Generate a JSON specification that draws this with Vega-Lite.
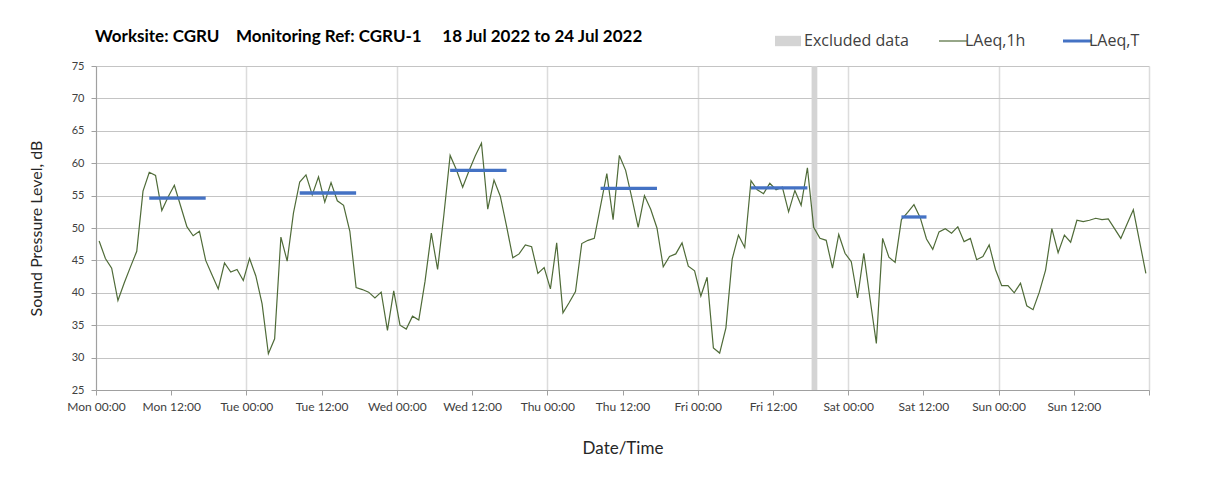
{
  "$schema": "https://vega.github.io/schema/vega-lite/v6.json",
  "width": 1053,
  "height": 324,
  "autosize": "none",
  "padding": {"left": 96, "top": 66, "right": 59, "bottom": 93},
  "title": {
    "text": "Worksite: CGRU\u00a0\u00a0\u00a0\u00a0Monitoring Ref: CGRU-1\u00a0\u00a0\u00a0\u00a0\u00a018 Jul 2022 to 24 Jul 2022",
    "anchor": "start",
    "frame": "group",
    "offset": 18,
    "dx": -1,
    "dy": 36,
    "font": "Lato",
    "fontSize": 17,
    "fontWeight": "bold",
    "color": "#000000"
  },
  "datasets": {
    "hourly": [
      {"time": "2022-07-18T00:30", "level": 48.0}, {"time": "2022-07-18T01:30", "level": 45.3}, {"time": "2022-07-18T02:30", "level": 43.8}, {"time": "2022-07-18T03:30", "level": 38.8},
      {"time": "2022-07-18T04:30", "level": 41.5}, {"time": "2022-07-18T05:30", "level": 44.0}, {"time": "2022-07-18T06:30", "level": 46.4}, {"time": "2022-07-18T07:30", "level": 55.7},
      {"time": "2022-07-18T08:30", "level": 58.6}, {"time": "2022-07-18T09:30", "level": 58.1}, {"time": "2022-07-18T10:30", "level": 52.7}, {"time": "2022-07-18T11:30", "level": 54.8},
      {"time": "2022-07-18T12:30", "level": 56.6}, {"time": "2022-07-18T13:30", "level": 53.4}, {"time": "2022-07-18T14:30", "level": 50.2}, {"time": "2022-07-18T15:30", "level": 48.8},
      {"time": "2022-07-18T16:30", "level": 49.5}, {"time": "2022-07-18T17:30", "level": 45.0}, {"time": "2022-07-18T18:30", "level": 42.8}, {"time": "2022-07-18T19:30", "level": 40.6},
      {"time": "2022-07-18T20:30", "level": 44.6}, {"time": "2022-07-18T21:30", "level": 43.2}, {"time": "2022-07-18T22:30", "level": 43.6}, {"time": "2022-07-18T23:30", "level": 41.9},
      {"time": "2022-07-19T00:30", "level": 45.3}, {"time": "2022-07-19T01:30", "level": 42.6}, {"time": "2022-07-19T02:30", "level": 38.3}, {"time": "2022-07-19T03:30", "level": 30.6},
      {"time": "2022-07-19T04:30", "level": 32.9}, {"time": "2022-07-19T05:30", "level": 48.6}, {"time": "2022-07-19T06:30", "level": 44.9}, {"time": "2022-07-19T07:30", "level": 52.3},
      {"time": "2022-07-19T08:30", "level": 57.1}, {"time": "2022-07-19T09:30", "level": 58.2}, {"time": "2022-07-19T10:30", "level": 55.1}, {"time": "2022-07-19T11:30", "level": 57.9},
      {"time": "2022-07-19T12:30", "level": 54.0}, {"time": "2022-07-19T13:30", "level": 57.0}, {"time": "2022-07-19T14:30", "level": 54.2}, {"time": "2022-07-19T15:30", "level": 53.5},
      {"time": "2022-07-19T16:30", "level": 49.5}, {"time": "2022-07-19T17:30", "level": 40.8}, {"time": "2022-07-19T18:30", "level": 40.5}, {"time": "2022-07-19T19:30", "level": 40.1},
      {"time": "2022-07-19T20:30", "level": 39.2}, {"time": "2022-07-19T21:30", "level": 40.1}, {"time": "2022-07-19T22:30", "level": 34.2}, {"time": "2022-07-19T23:30", "level": 40.3},
      {"time": "2022-07-20T00:30", "level": 35.0}, {"time": "2022-07-20T01:30", "level": 34.4}, {"time": "2022-07-20T02:30", "level": 36.4}, {"time": "2022-07-20T03:30", "level": 35.8},
      {"time": "2022-07-20T04:30", "level": 41.8}, {"time": "2022-07-20T05:30", "level": 49.2}, {"time": "2022-07-20T06:30", "level": 43.6}, {"time": "2022-07-20T07:30", "level": 52.0},
      {"time": "2022-07-20T08:30", "level": 61.2}, {"time": "2022-07-20T09:30", "level": 59.0}, {"time": "2022-07-20T10:30", "level": 56.3}, {"time": "2022-07-20T11:30", "level": 58.8},
      {"time": "2022-07-20T12:30", "level": 61.1}, {"time": "2022-07-20T13:30", "level": 63.1}, {"time": "2022-07-20T14:30", "level": 52.9}, {"time": "2022-07-20T15:30", "level": 57.4},
      {"time": "2022-07-20T16:30", "level": 54.9}, {"time": "2022-07-20T17:30", "level": 50.3}, {"time": "2022-07-20T18:30", "level": 45.4}, {"time": "2022-07-20T19:30", "level": 46.0},
      {"time": "2022-07-20T20:30", "level": 47.4}, {"time": "2022-07-20T21:30", "level": 47.1}, {"time": "2022-07-20T22:30", "level": 43.0}, {"time": "2022-07-20T23:30", "level": 43.9},
      {"time": "2022-07-21T00:30", "level": 40.6}, {"time": "2022-07-21T01:30", "level": 47.7}, {"time": "2022-07-21T02:30", "level": 36.9}, {"time": "2022-07-21T03:30", "level": 38.5},
      {"time": "2022-07-21T04:30", "level": 40.2}, {"time": "2022-07-21T05:30", "level": 47.6}, {"time": "2022-07-21T06:30", "level": 48.1}, {"time": "2022-07-21T07:30", "level": 48.4},
      {"time": "2022-07-21T08:30", "level": 53.4}, {"time": "2022-07-21T09:30", "level": 58.4}, {"time": "2022-07-21T10:30", "level": 51.3}, {"time": "2022-07-21T11:30", "level": 61.2},
      {"time": "2022-07-21T12:30", "level": 58.9}, {"time": "2022-07-21T13:30", "level": 54.6}, {"time": "2022-07-21T14:30", "level": 50.1}, {"time": "2022-07-21T15:30", "level": 55.0},
      {"time": "2022-07-21T16:30", "level": 52.9}, {"time": "2022-07-21T17:30", "level": 50.0}, {"time": "2022-07-21T18:30", "level": 44.0}, {"time": "2022-07-21T19:30", "level": 45.6},
      {"time": "2022-07-21T20:30", "level": 46.0}, {"time": "2022-07-21T21:30", "level": 47.7}, {"time": "2022-07-21T22:30", "level": 44.1}, {"time": "2022-07-21T23:30", "level": 43.4},
      {"time": "2022-07-22T00:30", "level": 39.5}, {"time": "2022-07-22T01:30", "level": 42.4}, {"time": "2022-07-22T02:30", "level": 31.5}, {"time": "2022-07-22T03:30", "level": 30.7},
      {"time": "2022-07-22T04:30", "level": 34.6}, {"time": "2022-07-22T05:30", "level": 45.2}, {"time": "2022-07-22T06:30", "level": 48.9}, {"time": "2022-07-22T07:30", "level": 47.0},
      {"time": "2022-07-22T08:30", "level": 57.3}, {"time": "2022-07-22T09:30", "level": 55.9}, {"time": "2022-07-22T10:30", "level": 55.3}, {"time": "2022-07-22T11:30", "level": 56.9},
      {"time": "2022-07-22T12:30", "level": 55.9}, {"time": "2022-07-22T13:30", "level": 56.3}, {"time": "2022-07-22T14:30", "level": 52.5}, {"time": "2022-07-22T15:30", "level": 55.8},
      {"time": "2022-07-22T16:30", "level": 53.5}, {"time": "2022-07-22T17:30", "level": 59.3}, {"time": "2022-07-22T18:30", "level": 50.1}, {"time": "2022-07-22T19:30", "level": 48.4},
      {"time": "2022-07-22T20:30", "level": 48.1}, {"time": "2022-07-22T21:30", "level": 43.8}, {"time": "2022-07-22T22:30", "level": 49.0}, {"time": "2022-07-22T23:30", "level": 46.1},
      {"time": "2022-07-23T00:30", "level": 44.8}, {"time": "2022-07-23T01:30", "level": 39.2}, {"time": "2022-07-23T02:30", "level": 46.1}, {"time": "2022-07-23T03:30", "level": 39.0},
      {"time": "2022-07-23T04:30", "level": 32.2}, {"time": "2022-07-23T05:30", "level": 48.4}, {"time": "2022-07-23T06:30", "level": 45.5}, {"time": "2022-07-23T07:30", "level": 44.7},
      {"time": "2022-07-23T08:30", "level": 51.3}, {"time": "2022-07-23T09:30", "level": 52.4}, {"time": "2022-07-23T10:30", "level": 53.6}, {"time": "2022-07-23T11:30", "level": 51.6},
      {"time": "2022-07-23T12:30", "level": 48.3}, {"time": "2022-07-23T13:30", "level": 46.7}, {"time": "2022-07-23T14:30", "level": 49.4}, {"time": "2022-07-23T15:30", "level": 49.9},
      {"time": "2022-07-23T16:30", "level": 49.2}, {"time": "2022-07-23T17:30", "level": 50.2}, {"time": "2022-07-23T18:30", "level": 47.9}, {"time": "2022-07-23T19:30", "level": 48.4},
      {"time": "2022-07-23T20:30", "level": 45.1}, {"time": "2022-07-23T21:30", "level": 45.6}, {"time": "2022-07-23T22:30", "level": 47.4}, {"time": "2022-07-23T23:30", "level": 43.6},
      {"time": "2022-07-24T00:30", "level": 41.1}, {"time": "2022-07-24T01:30", "level": 41.1}, {"time": "2022-07-24T02:30", "level": 40.0}, {"time": "2022-07-24T03:30", "level": 41.5},
      {"time": "2022-07-24T04:30", "level": 38.0}, {"time": "2022-07-24T05:30", "level": 37.4}, {"time": "2022-07-24T06:30", "level": 40.1}, {"time": "2022-07-24T07:30", "level": 43.5},
      {"time": "2022-07-24T08:30", "level": 49.9}, {"time": "2022-07-24T09:30", "level": 46.2}, {"time": "2022-07-24T10:30", "level": 48.9}, {"time": "2022-07-24T11:30", "level": 47.8},
      {"time": "2022-07-24T12:30", "level": 51.2}, {"time": "2022-07-24T13:30", "level": 51.0}, {"time": "2022-07-24T14:30", "level": 51.2}, {"time": "2022-07-24T15:30", "level": 51.5},
      {"time": "2022-07-24T16:30", "level": 51.3}, {"time": "2022-07-24T17:30", "level": 51.4}, {"time": "2022-07-24T18:30", "level": 49.9}, {"time": "2022-07-24T19:30", "level": 48.4},
      {"time": "2022-07-24T20:30", "level": 50.6}, {"time": "2022-07-24T21:30", "level": 52.8}, {"time": "2022-07-24T22:30", "level": 47.9}, {"time": "2022-07-24T23:30", "level": 43.0}
    ],
    "periods": [
      {"start": "2022-07-18T08:30", "end": "2022-07-18T17:30", "level": 54.6},
      {"start": "2022-07-19T08:30", "end": "2022-07-19T17:30", "level": 55.4},
      {"start": "2022-07-20T08:30", "end": "2022-07-20T17:30", "level": 58.9},
      {"start": "2022-07-21T08:30", "end": "2022-07-21T17:30", "level": 56.1},
      {"start": "2022-07-22T08:30", "end": "2022-07-22T17:30", "level": 56.2},
      {"start": "2022-07-23T08:30", "end": "2022-07-23T12:30", "level": 51.7}
    ],
    "excluded": [
      {"start": "2022-07-22T18:10", "end": "2022-07-22T19:05"}
    ]
  },
  "layer": [
    {
      "data": {"name": "excluded"},
      "mark": {"type": "rect"},
      "encoding": {
        "x": {"field": "start", "type": "temporal"},
        "x2": {"field": "end"},
        "fill": {
          "datum": "Excluded data",
          "type": "nominal",
          "scale": {"domain": ["Excluded data"], "range": ["#d4d4d4"]},
          "legend": {
            "title": null,
            "orient": "none",
            "legendX": 679,
            "legendY": -38,
            "symbolType": "M-1,-0.4H1V0.4H-1Z",
            "symbolSize": 676,
            "symbolStrokeWidth": 0,
            "symbolOpacity": 1,
            "labelFont": "Open Sans",
            "labelFontSize": 16,
            "labelColor": "#404040",
            "labelOffset": 3
          }
        }
      }
    },
    {
      "data": {"name": "hourly"},
      "mark": {"type": "line", "strokeWidth": 1.2},
      "encoding": {
        "x": {
          "field": "time",
          "type": "temporal",
          "title": "Date/Time",
          "scale": {"domain": [{"year": 2022, "month": 7, "date": 18, "hours": 0}, {"year": 2022, "month": 7, "date": 25, "hours": 0}]},
          "axis": {
            "values": [
              {"year": 2022, "month": 7, "date": 18, "hours": 0}, {"year": 2022, "month": 7, "date": 18, "hours": 12},
              {"year": 2022, "month": 7, "date": 19, "hours": 0}, {"year": 2022, "month": 7, "date": 19, "hours": 12},
              {"year": 2022, "month": 7, "date": 20, "hours": 0}, {"year": 2022, "month": 7, "date": 20, "hours": 12},
              {"year": 2022, "month": 7, "date": 21, "hours": 0}, {"year": 2022, "month": 7, "date": 21, "hours": 12},
              {"year": 2022, "month": 7, "date": 22, "hours": 0}, {"year": 2022, "month": 7, "date": 22, "hours": 12},
              {"year": 2022, "month": 7, "date": 23, "hours": 0}, {"year": 2022, "month": 7, "date": 23, "hours": 12},
              {"year": 2022, "month": 7, "date": 24, "hours": 0}, {"year": 2022, "month": 7, "date": 24, "hours": 12},
              {"year": 2022, "month": 7, "date": 25, "hours": 0}
            ],
            "tickCount": 20,
            "format": "%a %H:%M",
            "labelFlush": false,
            "labelOverlap": false,
            "grid": true,
            "gridColor": "#dcdcdc",
            "gridWidth": 1.5,
            "gridOpacity": {"condition": {"test": "hours(datum.value) === 0", "value": 1}, "value": 0},
            "labelColor": {"condition": {"test": "date(datum.value) === 25", "value": "transparent"}, "value": "#404040"},
            "labelPadding": 6,
            "titlePadding": 28,
            "titleFontSize": 17
          }
        },
        "y": {
          "field": "level",
          "type": "quantitative",
          "title": "Sound Pressure Level, dB",
          "scale": {"domain": [25, 75], "nice": false, "zero": false},
          "axis": {
            "values": [25, 30, 35, 40, 45, 50, 55, 60, 65, 70, 75],
            "tickCount": 12,
            "grid": true,
            "gridColor": "#c4c4c4",
            "gridWidth": 1,
            "labelFontSize": 11,
            "labelPadding": 7,
            "titlePadding": 27,
            "titleFontSize": 16
          }
        },
        "stroke": {
          "datum": "LAeq,1h",
          "type": "nominal",
          "scale": {"domain": ["LAeq,1h", "LAeq,T"], "range": ["#4f6b38", "#4472c4"]},
          "legend": {
            "title": null,
            "orient": "none",
            "legendX": 849,
            "legendY": -33,
            "direction": "horizontal",
            "symbolType": "stroke",
            "symbolSize": 784,
            "symbolStrokeWidth": 2,
            "symbolOpacity": 1,
            "labelFont": "Open Sans",
            "labelFontSize": 16,
            "labelColor": "#404040",
            "labelOffset": 4,
            "columnPadding": 31,
            "encode": {
              "symbols": {
                "update": {
                  "strokeWidth": {"signal": "datum.value === 'LAeq,T' ? 3 : 1.2"}
                }
              }
            }
          }
        }
      }
    },
    {
      "data": {"name": "periods"},
      "mark": {"type": "rule", "strokeWidth": 3.3},
      "encoding": {
        "x": {"field": "start", "type": "temporal"},
        "x2": {"field": "end"},
        "y": {
          "field": "level",
          "type": "quantitative",
          "axis": {
            "values": [25, 30, 35, 40, 45, 50, 55, 60, 65, 70, 75],
            "tickCount": 12,
            "grid": true,
            "gridColor": "#c4c4c4",
            "gridWidth": 1,
            "labelFontSize": 11,
            "labelPadding": 7,
            "titlePadding": 27,
            "titleFontSize": 16
          }
        },
        "stroke": {"datum": "LAeq,T", "type": "nominal"}
      }
    }
  ],
  "config": {
    "view": {"stroke": null},
    "axis": {
      "labelFont": "Lato",
      "labelFontSize": 12,
      "labelColor": "#404040",
      "titleFont": "Lato",
      "titleFontWeight": "normal",
      "titleColor": "#262626",
      "domainColor": "#a0a0a0",
      "tickColor": "#a0a0a0",
      "tickSize": 5
    }
  }
}
